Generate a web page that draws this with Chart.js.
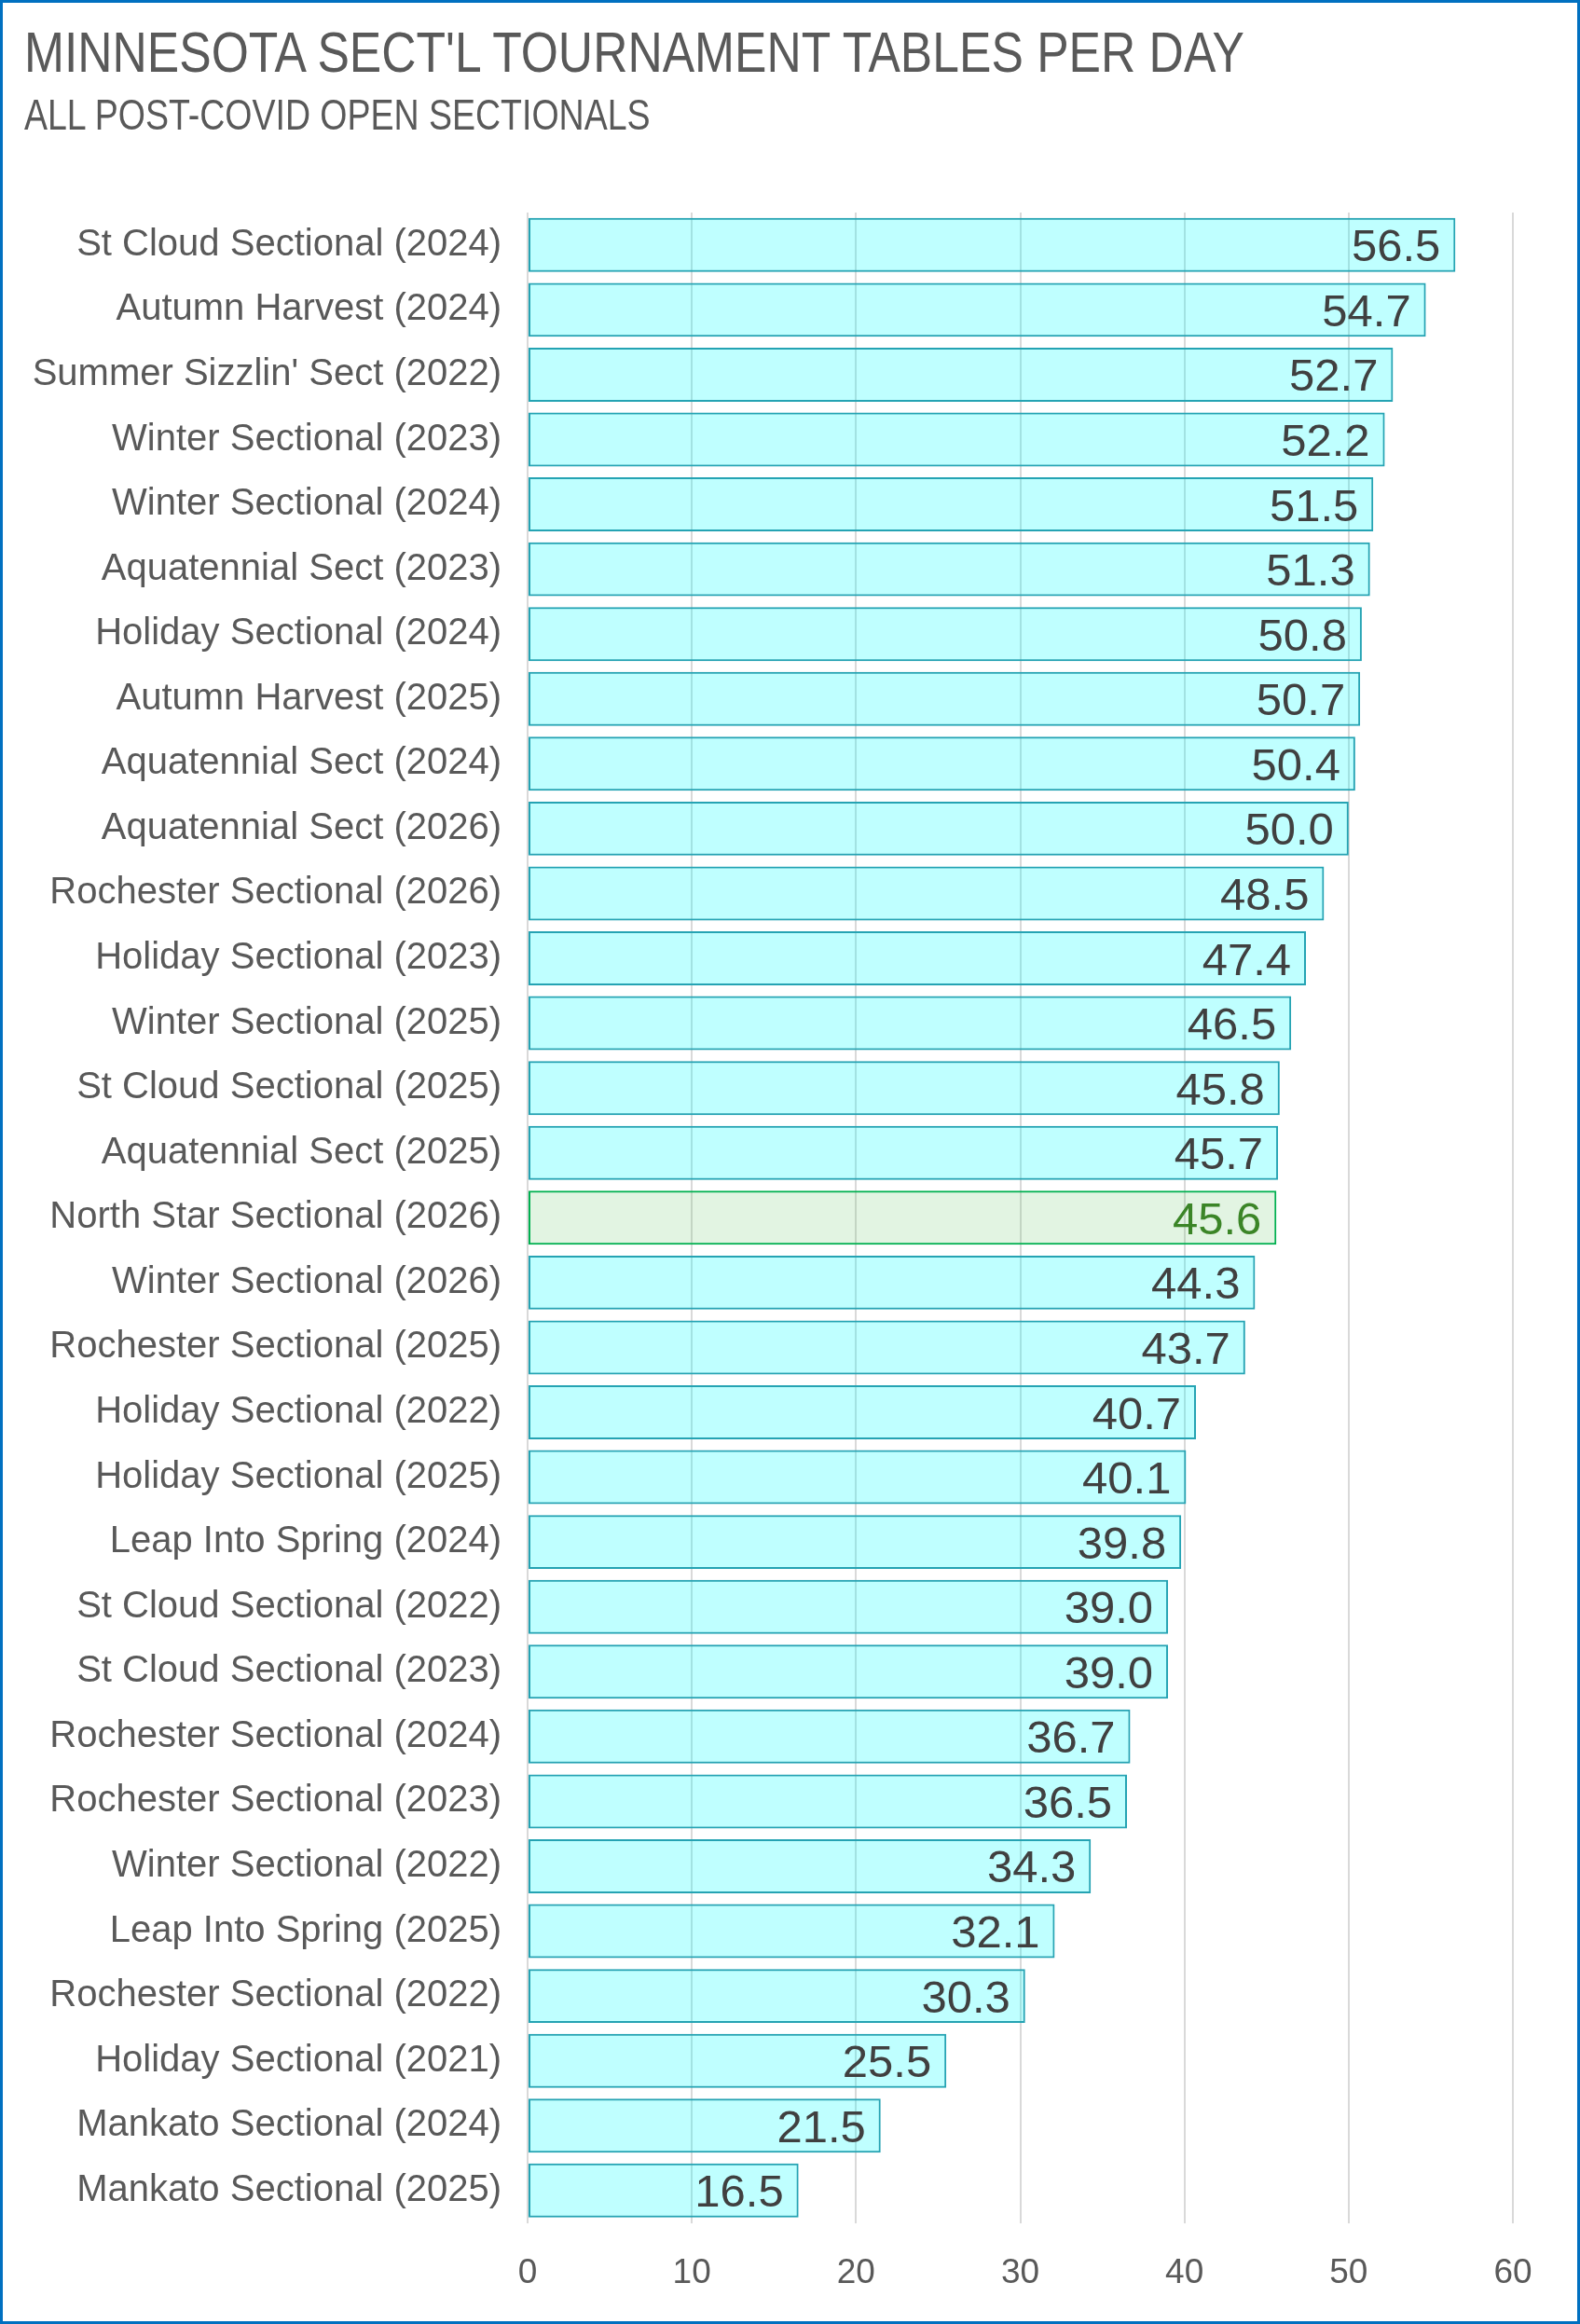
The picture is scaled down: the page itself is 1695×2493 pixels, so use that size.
<!DOCTYPE html>
<html>
<head>
<meta charset="utf-8">
<script src="https://cdn.jsdelivr.net/npm/chart.js@4.4.1/dist/chart.umd.min.js"></script>
<style>
  html, body { margin: 0; padding: 0; background: #fff; }
  #wrap { position: relative; width: 1695px; height: 2493px; }
  #frame { position: absolute; left: 0; top: 0; width: 1695px; height: 2493px;
           box-sizing: border-box; border: 3px solid #0070C0; pointer-events: none; }
  canvas { position: absolute; left: 0; top: 0; }
  .hd { position: absolute; left: 26px; margin: 0; white-space: nowrap; color: #595959;
        font-family: "Liberation Sans", Arial, sans-serif; font-weight: normal;
        line-height: 1; transform-origin: 0 0; }
  #title { top: 26px; font-size: 61px; transform: scaleX(0.846); }
  #subtitle { top: 100px; font-size: 46px; transform: scaleX(0.815); }
</style>
</head>
<body>
<div id="wrap">
  <canvas id="myChart" width="1695" height="2493"></canvas>
  <h1 class="hd" id="title">MINNESOTA SECT'L TOURNAMENT TABLES PER DAY</h1>
  <h2 class="hd" id="subtitle">ALL POST-COVID OPEN SECTIONALS</h2>
  <div id="frame"></div>
</div>
<script>
// tables per day, sorted high to low
const events = [
  "St Cloud Sectional (2024)", "Autumn Harvest (2024)", "Summer Sizzlin' Sect (2022)",
  "Winter Sectional (2023)", "Winter Sectional (2024)", "Aquatennial Sect (2023)",
  "Holiday Sectional (2024)", "Autumn Harvest (2025)", "Aquatennial Sect (2024)",
  "Aquatennial Sect (2026)", "Rochester Sectional (2026)", "Holiday Sectional (2023)",
  "Winter Sectional (2025)", "St Cloud Sectional (2025)", "Aquatennial Sect (2025)",
  "North Star Sectional (2026)", "Winter Sectional (2026)", "Rochester Sectional (2025)",
  "Holiday Sectional (2022)", "Holiday Sectional (2025)", "Leap Into Spring (2024)",
  "St Cloud Sectional (2022)", "St Cloud Sectional (2023)", "Rochester Sectional (2024)",
  "Rochester Sectional (2023)", "Winter Sectional (2022)", "Leap Into Spring (2025)",
  "Rochester Sectional (2022)", "Holiday Sectional (2021)", "Mankato Sectional (2024)",
  "Mankato Sectional (2025)"
];
const tablesPerDay = [
  56.5, 54.7, 52.7, 52.2, 51.5, 51.3, 50.8, 50.7, 50.4, 50.0,
  48.5, 47.4, 46.5, 45.8, 45.7, 45.6, 44.3, 43.7, 40.7, 40.1,
  39.8, 39.0, 39.0, 36.7, 36.5, 34.3, 32.1, 30.3, 25.5, 21.5,
  16.5
];
const highlight = "North Star Sectional (2026)";
const xTicks = [0, 10, 20, 30, 40, 50, 60];

const isHi = events.map(e => e === highlight);
const fills = isHi.map(h => h ? 'rgba(110,200,110,0.2)' : 'rgba(0,255,255,0.25)');
const borders = isHi.map(h => h ? '#00B050' : '#25A3B3');
const labelColors = isHi.map(h => h ? '#3B8527' : '#404040');

// values drawn inside the bar end
const valueLabels = {
  id: 'valueLabels',
  afterDatasetsDraw(chart) {
    const ctx = chart.ctx;
    const meta = chart.getDatasetMeta(0);
    ctx.save();
    ctx.font = '49px "Liberation Sans", Arial, sans-serif';
    ctx.textAlign = 'right';
    ctx.textBaseline = 'middle';
    meta.data.forEach((bar, i) => {
      ctx.fillStyle = labelColors[i];
      ctx.fillText(tablesPerDay[i].toFixed(1), bar.x - 16, bar.y + 4);
    });
    ctx.restore();
  }
};

const ctx = document.getElementById('myChart').getContext('2d');
const myChart = new Chart(ctx, {
  type: 'bar',
  data: {
    labels: events,
    datasets: [{
      data: tablesPerDay,
      backgroundColor: fills,
      borderColor: borders,
      borderWidth: 2,
      borderSkipped: false,
      barPercentage: 0.833,
      categoryPercentage: 1.0
    }]
  },
  options: {
    indexAxis: 'y',
    responsive: false,
    animation: false,
    devicePixelRatio: 1,
    layout: { padding: { left: 0, right: 72, top: 228, bottom: 0 } },
    plugins: {
      legend: { display: false },
      tooltip: { enabled: false }
    },
    scales: {
      x: {
        min: 0,
        max: 60,
        afterBuildTicks(scale) { scale.ticks = xTicks.map(v => ({ value: v })); },
        grid: { color: '#D9D9D9', lineWidth: 2, drawTicks: false },
        border: { display: false },
        ticks: {
          color: '#595959',
          padding: 32,
          font: { family: '"Liberation Sans", Arial, sans-serif', size: 37 }
        }
      },
      y: {
        afterFit(scale) { scale.width = 566; },
        grid: { display: false, drawTicks: false },
        border: { display: false },
        ticks: {
          color: '#595959',
          padding: 28,
          autoSkip: false,
          font: { family: '"Liberation Sans", Arial, sans-serif', size: 40 }
        }
      }
    }
  },
  plugins: [valueLabels]
});
</script>
</body>
</html>
